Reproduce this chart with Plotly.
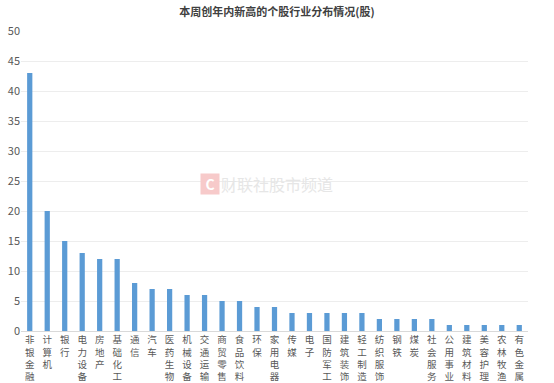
import plotly.graph_objects as go

categories = ["非银金融", "计算机", "银行", "电力设备", "房地产", "基础化工", "通信", "汽车",
              "医药生物", "机械设备", "交通运输", "商贸零售", "食品饮料", "环保", "家用电器",
              "传媒", "电子", "国防军工", "建筑装饰", "轻工制造", "纺织服饰", "钢铁", "煤炭",
              "社会服务", "公用事业", "建筑材料", "美容护理", "农林牧渔", "有色金属"]
counts = [43, 20, 15, 13, 12, 12, 8, 7, 7, 6, 6, 5, 5, 4, 4,
          3, 3, 3, 3, 3, 2, 2, 2, 2, 1, 1, 1, 1, 1]
y_ticks = [0, 5, 10, 15, 20, 25, 30, 35, 40, 45, 50]
title_text = "本周创年内新高的个股行业分布情况(股)"
watermark = "财联社股市频道"

tick_text = ["<br>".join(list(c)) for c in categories]

fig = go.Figure()
fig.add_trace(go.Bar(
    x=list(range(len(categories))), y=counts,
    marker=dict(color="#5b9bd5", line=dict(width=0)),
    width=0.3,
))

fig.update_layout(
    width=554, height=383,
    margin=dict(l=21, r=26, t=31, b=52),
    paper_bgcolor="white", plot_bgcolor="white",
    showlegend=False,
    font=dict(family="Noto Sans CJK SC, sans-serif", color="#595959", size=11),
    title=dict(text="<b>" + title_text + "</b>", x=0.5, xanchor="center",
               y=1 - 12 / 383, yanchor="middle",
               font=dict(size=11, color="#404040")),
    xaxis=dict(
        tickmode="array", tickvals=list(range(len(categories))), ticktext=tick_text,
        range=[-0.5, len(categories) - 0.5], automargin=False,
        showgrid=False, zeroline=False, showline=True, linecolor="#d9d9d9",
        ticks="", tickangle=0, tickfont=dict(size=9.5, color="#595959"),
        fixedrange=True,
    ),
    yaxis=dict(
        range=[0, 50], tickvals=y_ticks, automargin=False,
        showgrid=True, gridcolor="#ededed", gridwidth=1,
        zeroline=False, showline=False, ticks="",
        tickfont=dict(size=11, color="#595959"),
    ),
)

fig.add_annotation(
    x=0.5, y=0.49, xref="paper", yref="paper",
    text="<b>C</b>", showarrow=False, xshift=-65,
    font=dict(size=14, color="white"), bgcolor="#f7caca",
    width=16, height=18,
)
fig.add_annotation(
    x=0.5, y=0.49, xref="paper", yref="paper",
    text=watermark, showarrow=False, xshift=2,
    font=dict(size=16, color="#e6e6e6"),
)

fig.write_html("out.html", config={"displayModeBar": False},
               post_script="document.body.style.margin='0';document.body.style.overflow='hidden';")
